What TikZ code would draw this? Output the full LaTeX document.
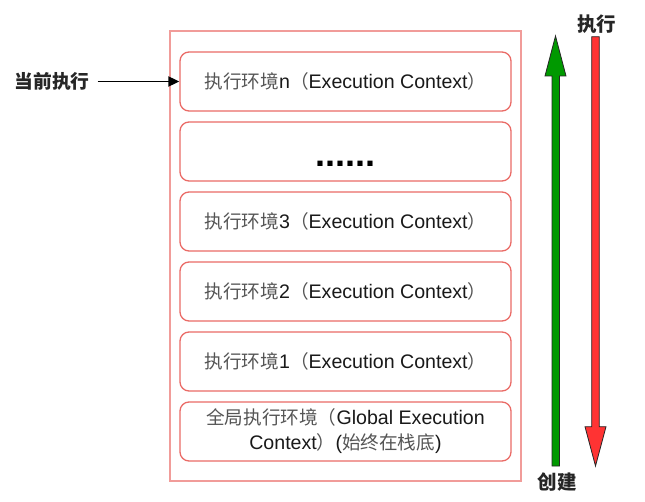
\documentclass[tikz,border=0pt]{standalone}
\usepackage{fontspec}
\setmainfont{Liberation Sans}
\newfontfamily\cjkf{Noto Sans CJK SC}[Scale=0.95]
\newfontfamily\cjkl{Noto Sans CJK SC}
\usetikzlibrary{arrows.meta}
\definecolor{cjkgray}{HTML}{555555}
\definecolor{boxred}{HTML}{EA6B66}
\definecolor{outerred}{HTML}{F19C99}
\definecolor{arrgreen}{HTML}{009900}
\definecolor{arrred}{HTML}{FF3333}
\newcommand\zh[1]{{\cjkf\color{cjkgray}#1}}
\begin{document}
\begin{tikzpicture}[x=1pt,y=-1pt,
  ctx/.style={draw=boxred, line width=1.3pt, rounded corners=9pt, fill=white,
    minimum width=331pt, minimum height=59pt, inner sep=0pt, align=center,
    font=\fontsize{19.6}{25}\selectfont, text=black!90},
  outerbox/.style={draw=outerred, line width=1.1pt, fill=white,
    minimum width=351pt, minimum height=450pt, inner sep=0pt},
  lbl/.style={font=\cjkl\bfseries\fontsize{19.5}{22}\selectfont, text=black!85, inner sep=0pt},
  bigarrow/.style={line width=0.8pt, draw=black!85}
]
\useasboundingbox (0,0) rectangle (645,502);
\node[outerbox] (stack) at (345.5,256) {};
\node[ctx] (bn) at (345.5,81.5) {\zh{执行环境}n\zh{（}Execution Context\zh{）}};
\node[ctx] (bdots) at (345.5,151.5) {};
\node[font=\fontsize{36}{36}\selectfont\bfseries, anchor=base, inner sep=0pt] (dots) at (345.5,167) {......};
\node[ctx] (b3) at (345.5,221.5) {\zh{执行环境}3\zh{（}Execution Context\zh{）}};
\node[ctx] (b2) at (345.5,291.5) {\zh{执行环境}2\zh{（}Execution Context\zh{）}};
\node[ctx] (b1) at (345.5,361.5) {\zh{执行环境}1\zh{（}Execution Context\zh{）}};
\node[ctx] (bg) at (345.5,431.5) {\zh{全局执行环境（}Global Execution\\Context\zh{）}(\zh{始终在栈底})};
\node[lbl, font=\cjkl\bfseries\fontsize{18.75}{22}\selectfont] (cur) at (52,81.5) {当前执行};
\draw[-{Triangle[length=11pt,width=10pt]}, line width=1.8pt, shorten <=8pt] (cur.east) -- (bn.west);
\draw[bigarrow, fill=arrgreen] (552,466) -- (552,76) -- (545,76) -- (555.5,36) -- (566,76) -- (559.5,76) -- (559.5,466) -- cycle;
\draw[bigarrow, fill=arrred] (591.7,36.7) -- (599.3,36.7) -- (599.3,426.7) -- (606,426.7) -- (595.5,466) -- (585,426.7) -- (591.7,426.7) -- cycle;
\node[lbl] (exe) at (596.5,24) {执行};
\node[lbl] (cre) at (557,482) {创建};
\end{tikzpicture}
\end{document}
